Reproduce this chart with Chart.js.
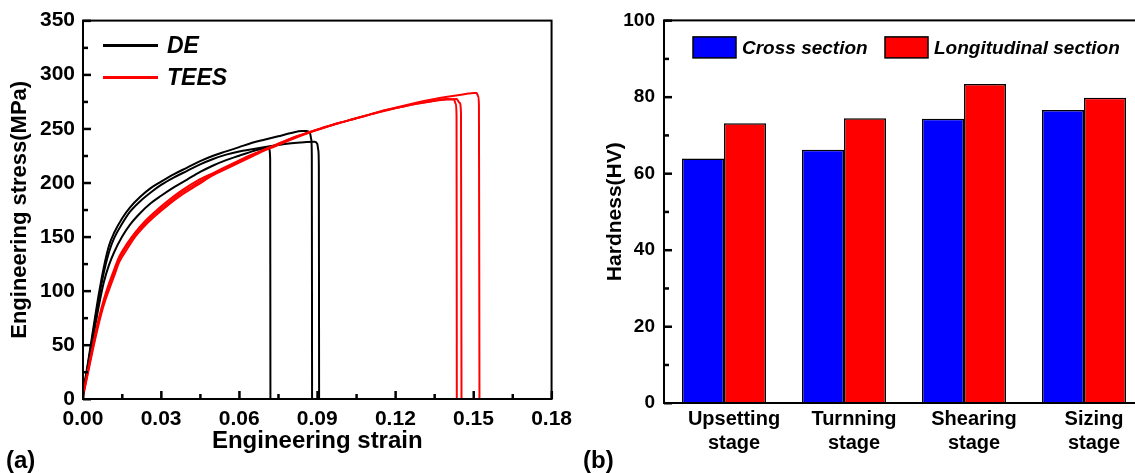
<!DOCTYPE html>
<html>
<head>
<meta charset="utf-8">
<title>Tensile curves and hardness</title>
<script src="https://cdn.jsdelivr.net/npm/chart.js@4.4.1/dist/chart.umd.min.js"></script>
<style>
  body { margin: 0; background: #fff; overflow: hidden; }
  #wrap { position: relative; width: 1135px; height: 473px; overflow: hidden; }
  canvas { position: absolute; top: 0; }
  .tag { position: absolute; top: 446px; font: bold 24px 'Liberation Sans', Arial, sans-serif; color: #000; }
</style>
</head>
<body>
<div id="wrap">
  <canvas id="strain-chart" width="580" height="473" style="left:0"></canvas>
  <canvas id="hardness-chart" width="580" height="473" style="left:580px"></canvas>
  <div class="tag" style="left:6px">(a)</div>
  <div class="tag" style="left:583px">(b)</div>
</div>
<script>
//? Tensile curves, panel (a)
const seriesNames = ['DE', 'TEES']

const deStrain1 = [0, 0.002, 0.004, 0.006, 0.008, 0.010, 0.012, 0.015, 0.018, 0.022, 0.026, 0.030, 0.035, 0.040, 0.045, 0.050, 0.055, 0.060, 0.065, 0.070, 0.075, 0.080, 0.084, 0.086, 0.0872, 0.0877, 0.0879, 0.0880]
const deStress1 = [6, 35, 66, 96, 122, 142, 154, 167, 177, 187, 195, 201, 208, 214, 220, 225, 229, 233, 237, 240, 243, 246, 248, 248, 246, 240, 225, 0]

const deStrain2 = [0, 0.002, 0.004, 0.006, 0.008, 0.010, 0.012, 0.015, 0.018, 0.022, 0.026, 0.030, 0.035, 0.040, 0.045, 0.050, 0.055, 0.060, 0.065, 0.070, 0.075, 0.080, 0.085, 0.089, 0.0900, 0.0904, 0.0906, 0.0907]
const deStress2 = [5, 33, 63, 92, 117, 136, 149, 162, 173, 183, 191, 198, 205, 211, 217, 222, 226, 229, 231, 233, 235, 236.5, 237.5, 238, 236, 230, 215, 0]

const deStrain3 = [0, 0.002, 0.004, 0.006, 0.008, 0.010, 0.012, 0.015, 0.018, 0.022, 0.026, 0.030, 0.035, 0.040, 0.045, 0.050, 0.055, 0.060, 0.065, 0.068, 0.0705, 0.0715, 0.0719, 0.0720]
const deStress3 = [5, 31, 58, 85, 108, 124, 136, 150, 161, 172, 181, 188, 196, 203, 210, 216, 221, 225, 229, 231, 232, 231, 222, 0]

const teesStrain1 = [0, 0.002, 0.004, 0.006, 0.008, 0.010, 0.012, 0.014, 0.017, 0.020, 0.024, 0.028, 0.033, 0.038, 0.044, 0.050, 0.056, 0.062, 0.068, 0.074, 0.080, 0.086, 0.092, 0.098, 0.104, 0.110, 0.116, 0.122, 0.128, 0.134, 0.140, 0.1425, 0.1432, 0.1435, 0.1436]
const teesStress1 = [3, 28, 52, 74, 92, 107, 120, 132, 144, 154, 165, 174, 184, 193, 202, 209, 216, 223, 229, 235, 241, 246, 251, 255, 259, 263, 267, 270, 273, 275.5, 277.5, 277, 273, 262, 0]

const teesStrain2 = [0, 0.002, 0.004, 0.006, 0.008, 0.010, 0.012, 0.014, 0.017, 0.020, 0.024, 0.028, 0.033, 0.038, 0.044, 0.050, 0.056, 0.062, 0.068, 0.074, 0.080, 0.086, 0.092, 0.098, 0.104, 0.110, 0.116, 0.122, 0.128, 0.134, 0.140, 0.1435, 0.1447, 0.1452, 0.1454]
const teesStress2 = [3, 27, 50, 72, 90, 104, 117, 130, 142, 152, 163, 172, 182, 191, 200, 208, 215, 222, 229, 235, 241, 246, 250.5, 255, 259, 263, 266.5, 270, 273, 275.5, 277, 277.5, 274, 265, 0]

const teesStrain3 = [0, 0.002, 0.004, 0.006, 0.008, 0.010, 0.012, 0.014, 0.017, 0.020, 0.024, 0.028, 0.033, 0.038, 0.044, 0.050, 0.056, 0.062, 0.068, 0.074, 0.080, 0.086, 0.092, 0.098, 0.104, 0.110, 0.116, 0.122, 0.128, 0.134, 0.140, 0.144, 0.148, 0.150, 0.1512, 0.1518, 0.1521, 0.1523]
const teesStress3 = [2, 25, 48, 69, 87, 101, 114, 127, 139, 150, 161, 170, 180, 189, 198, 207, 214, 221, 228, 234, 240, 245.5, 250.5, 255, 259, 263, 267, 270.5, 274, 277, 279.5, 281, 282.5, 283, 283, 280, 272, 0]

//? Hardness, panel (b)
const stages = [['Upsetting', 'stage'], ['Turnning', 'stage'], ['Shearing', 'stage'], ['Sizing', 'stage']]
const sectionNames = ['Cross section', 'Longitudinal section']
const crossHardness = [63.9, 66.2, 74.3, 76.6]
const longHardness = [73.1, 74.4, 83.4, 79.8]

const FONT = "'Liberation Sans', Arial, sans-serif"
Chart.defaults.color = '#000'
Chart.defaults.font.family = FONT

const pairs = (xs, ys) => xs.map((x, i) => ({ x: x, y: ys[i] }))

// box round the plot area plus inward major / minor ticks on the given axes
function frameTicks(axisIds) {
    return {
        id: 'frameTicks',
        afterDraw(chart) {
            const ctx = chart.ctx
            const a = chart.chartArea
            ctx.save()
            ctx.fillStyle = '#000'
            axisIds.forEach(id => {
                const scale = chart.scales[id]
                const n = scale.ticks.length
                for (let i = 0; i < n; i++) {
                    const p = scale.getPixelForTick(i)
                    const marks = [[p, 8]]
                    if (i < n - 1) marks.push([(p + scale.getPixelForTick(i + 1)) / 2, 5])
                    marks.forEach(m => {
                        if (scale.isHorizontal()) ctx.fillRect(m[0] - 1, a.bottom - m[1], 2.5, m[1])
                        else ctx.fillRect(a.left, m[0] - 1, m[1], 2.5)
                    })
                }
            })
            ctx.strokeStyle = '#000'
            ctx.lineWidth = 2
            ctx.strokeRect(a.left, a.top, a.right - a.left, a.bottom - a.top)
            ctx.restore()
        }
    }
}

// legend drawn inside the plot area
function insideLegend(spec) {
    return {
        id: 'insideLegend',
        afterDraw(chart) {
            const ctx = chart.ctx
            const a = chart.chartArea
            ctx.save()
            ctx.font = spec.font
            ctx.textBaseline = 'middle'
            ctx.textAlign = 'left'
            spec.items.forEach(it => {
                const x = a.left + it.dx
                const y = a.top + it.dy
                if (spec.kind === 'line') {
                    ctx.strokeStyle = it.color
                    ctx.lineWidth = 3
                    ctx.beginPath()
                    ctx.moveTo(x, y)
                    ctx.lineTo(x + spec.w, y)
                    ctx.stroke()
                } else {
                    ctx.fillStyle = it.color
                    ctx.fillRect(x, y - spec.h / 2, spec.w, spec.h)
                    ctx.strokeStyle = '#000'
                    ctx.lineWidth = 1.5
                    ctx.strokeRect(x, y - spec.h / 2, spec.w, spec.h)
                }
                ctx.fillStyle = '#000'
                ctx.fillText(it.text, x + spec.w + spec.gap, y + 1)
            })
            ctx.restore()
        }
    }
}

const curve = (xs, ys, color) => ({
    data: pairs(xs, ys),
    borderColor: color,
    backgroundColor: color,
    borderWidth: 2,
    showLine: true,
    pointRadius: 0,
    cubicInterpolationMode: 'monotone'
})

const dataStrain = {
    datasets: [
        curve(teesStrain1, teesStress1, '#ff0000'),
        curve(teesStrain2, teesStress2, '#ff0000'),
        curve(teesStrain3, teesStress3, '#ff0000'),
        curve(deStrain1, deStress1, '#000000'),
        curve(deStrain2, deStress2, '#000000'),
        curve(deStrain3, deStress3, '#000000')
    ]
}

const configStrain = {
    type: 'scatter',
    data: dataStrain,
    plugins: [
        frameTicks(['x', 'y']),
        insideLegend({
            kind: 'line', w: 55, gap: 9,
            font: 'italic bold 23px ' + FONT,
            items: [
                { text: seriesNames[0], color: '#000000', dx: 20, dy: 25 },
                { text: seriesNames[1], color: '#ff0000', dx: 20, dy: 57 }
            ]
        })
    ],
    options: {
        responsive: false,
        animation: false,
        layout: { padding: { top: 20, right: 27, left: 0, bottom: 0 } },
        plugins: {
            legend: { display: false },
            tooltip: { enabled: false }
        },
        scales: {
            x: {
                type: 'linear', min: 0, max: 0.18,
                afterFit(scale) { scale.height = 74 },
                grid: { display: false, drawTicks: false },
                border: { display: false },
                ticks: {
                    stepSize: 0.03, padding: 8,
                    font: { size: 21, weight: 'bold' },
                    callback: v => v.toFixed(2)
                },
                title: { display: true, text: 'Engineering strain', font: { size: 24, weight: 'bold' }, padding: { top: 0, bottom: 17 } }
            },
            y: {
                min: 0, max: 350,
                afterFit(scale) { scale.width = 83 },
                grid: { display: false, drawTicks: false },
                border: { display: false },
                ticks: { stepSize: 50, padding: 8, font: { size: 21, weight: 'bold' } },
                title: { display: true, text: 'Engineering stress(MPa)', font: { size: 22, weight: 'bold' }, padding: { top: 7, bottom: 0 } }
            }
        }
    }
}

const strainChart = new Chart(document.getElementById('strain-chart'), configStrain)

//? Hardness bars
const dataHardness = {
    labels: stages,
    datasets: [
        {
            label: sectionNames[0],
            data: crossHardness,
            backgroundColor: '#0000ff',
            borderColor: '#000',
            borderWidth: 1.5
        },
        {
            label: sectionNames[1],
            data: longHardness,
            backgroundColor: '#ff0000',
            borderColor: '#000',
            borderWidth: 1.5
        }
    ]
}

const configHardness = {
    type: 'bar',
    data: dataHardness,
    plugins: [
        frameTicks(['y']),
        insideLegend({
            kind: 'box', w: 43, h: 21, gap: 6,
            font: 'italic bold 19px ' + FONT,
            items: [
                { text: sectionNames[0], color: '#0000ff', dx: 29, dy: 27 },
                { text: sectionNames[1], color: '#ff0000', dx: 221, dy: 27 }
            ]
        })
    ],
    options: {
        responsive: false,
        animation: false,
        categoryPercentage: 0.7,
        barPercentage: 1.0,
        layout: { padding: { top: 16, right: 16, left: 0, bottom: 0 } },
        plugins: {
            legend: { display: false },
            tooltip: { enabled: false }
        },
        scales: {
            x: {
                afterFit(scale) { scale.height = 70 },
                grid: { display: false, drawTicks: false },
                border: { display: false },
                ticks: { padding: 4, labelOffset: 10, font: { size: 20, weight: 'bold' } }
            },
            y: {
                min: 0, max: 100,
                afterFit(scale) { scale.width = 84 },
                grid: { display: false, drawTicks: false },
                border: { display: false },
                ticks: { stepSize: 20, padding: 9, font: { size: 19, weight: 'bold' } },
                title: { display: true, text: 'Hardness(HV)', font: { size: 21, weight: 'bold' }, padding: { top: 23, bottom: 0 } }
            }
        }
    }
}

const hardnessChart = new Chart(document.getElementById('hardness-chart'), configHardness)
</script>
</body>
</html>
